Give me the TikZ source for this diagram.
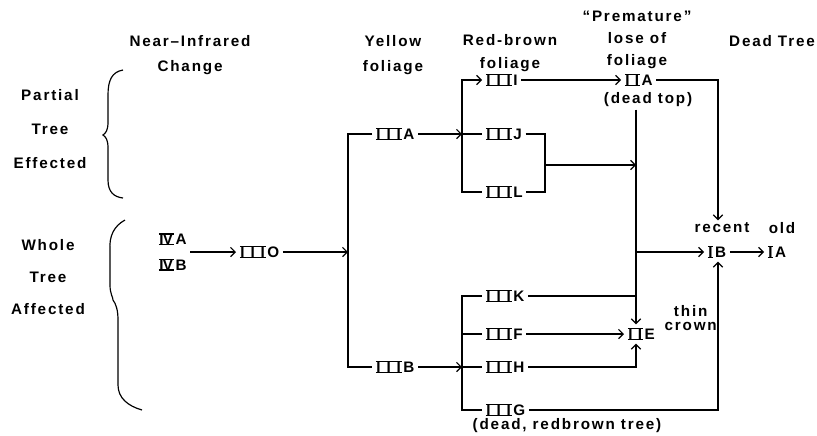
\documentclass[tikz,border=0pt]{standalone}
\usepackage{fontspec}
\setmainfont{Liberation Sans}[LetterSpace=12]
\usetikzlibrary{arrows.meta,positioning}

% roman numeral with bars above and below
\newcommand{\rnbox}[1]{\setbox0\hbox{\addfontfeature{LetterSpace=0}\kern0.6pt#1\kern0.6pt}%
  \leavevmode\rlap{\rule[-0.6pt]{\wd0}{1.2pt}}%
  \rlap{\rule[\dimexpr\ht0-0.6pt\relax]{\wd0}{1.2pt}}\box0\kern1.5pt}
\newcommand{\rnI}{\rnbox{I}}
\newcommand{\rnII}{\rnbox{I\kern4.5pt I}}
\newcommand{\rnIII}{\rnbox{I\kern5pt I\kern5pt I}}
\newcommand{\rnIV}{\rnbox{I\kern-0.6pt V}}
\newcommand{\lsz}[1]{\fontsize{13}{#1}\selectfont\bfseries}

\tikzset{
  stage/.style={align=center, inner sep=2pt},
  sym/.style={font=\lsz{14}, inner sep=3pt, anchor=west},
  flow/.style={line width=1pt, -{Straight Barb[length=4pt,width=8pt]}},
  link/.style={line width=1pt},
  brace/.style={line width=1pt},
}

\begin{document}
\begin{tikzpicture}[x=0.03cm, y=-0.03cm]
  \useasboundingbox (0,0) rectangle (817,435);

  % column headings
  \node[stage, font=\lsz{22}] (hNIR) at (190,55) {Near--Infrared\\Change};
  \node[stage, font=\lsz{21}] (hYel) at (393,55) {Yellow\\foliage};
  \node[stage, font=\lsz{19}] (hRed) at (510,53) {Red-brown\\foliage};
  \node[stage, font=\lsz{19}] (hPre) at (637,40) {``Premature''\\lose of\\foliage};
  \node[stage, font=\lsz{14}] (hDead) at (772,41) {Dead Tree};

  % side labels
  \node[stage, font=\lsz{29}] (sPart) at (50,129) {Partial\\Tree\\Effected};
  \node[stage, font=\lsz{27}] (sWhole) at (48,277) {Whole\\Tree\\Affected};

  % braces
  \draw[brace] (123,70) .. controls (112,72) and (108,80) .. (108,95) -- (108,122)
    .. controls (108,130) and (106,133) .. (103,135)
    .. controls (106,137) and (108,140) .. (108,148) -- (108,180)
    .. controls (108,192) and (114,197) .. (123,198);
  \draw[brace] (125,220) .. controls (114,226) and (109,236) .. (110,250) -- (110,285)
    .. controls (110,294) and (113,297) .. (113,300)
    .. controls (116,304) and (118,310) .. (118,320) -- (118,385)
    .. controls (118,398) and (128,406) .. (142,410);

  % stages
  \node[sym, align=left, font=\lsz{22}] (nIV) at (155,252) {\rnIV A\\\rnIV B};
  \node[sym] (nIIIO) at (236,252) {\rnIII O};
  \node[sym] (nIIIA) at (372,134) {\rnIII A};
  \node[sym] (nIIIB) at (372,367) {\rnIII B};
  \node[sym] (nIIII) at (482,80) {\rnIII I};
  \node[sym] (nIIIJ) at (482,134) {\rnIII J};
  \node[sym] (nIIIL) at (482,192) {\rnIII L};
  \node[sym] (nIIIK) at (482,296) {\rnIII K};
  \node[sym] (nIIIF) at (482,334) {\rnIII F};
  \node[sym] (nIIIH) at (482,367) {\rnIII H};
  \node[sym] (nIIIG) at (482,410) {\rnIII G};
  \node[sym] (nIIA) at (621,80) {\rnII A};
  \node[sym] (nIIE) at (624,334) {\rnII E};
  \node[sym] (nIB) at (704,252) {\rnI B};
  \node[sym] (nIA) at (764,252) {\rnI A};

  % notes
  \node[stage, font=\lsz{14}] (nDeadTop) at (648,100) {(dead top)};
  \node[stage, font=\lsz{14}] (nDeadRed) at (567,426) {(dead, redbrown tree)};
  \node[stage, font=\lsz{12}, anchor=west] (nThin) at (662,318) {thin\\crown};
  \node[stage, font=\lsz{14}] (nRecent) at (722,228) {recent};
  \node[stage, font=\lsz{14}] (nOld) at (782,228) {old};

  % junctions
  \coordinate (b1) at (348,252);
  \coordinate (b2) at (462,134);
  \coordinate (b4) at (462,367);
  \coordinate (m1) at (545,165);
  \coordinate (v3) at (636,165);
  \coordinate (v5) at (718,165);

  % connectors
  \draw[flow] (nIV.east) -- (nIIIO.west);
  \draw[flow] (nIIIO.east) -- (b1);
  \draw[link] (nIIIA.west) -| (b1) |- (nIIIB.west);

  \draw[flow] (nIIIA.east) -- (nIIIA.east -| b2);
  \draw[flow] (b2) |- (nIIII.west);
  \draw[link] (b2) -- (nIIIJ.west);
  \draw[link] (b2) |- (nIIIL.west);

  \draw[flow] (nIIIB.east) -- (nIIIB.east -| b4);
  \draw[link] (nIIIK.west) -| (b4) |- (nIIIG.west);
  \draw[link] (b4) -- (nIIIH.west);
  \draw[link] (b4 |- nIIIF) -- (nIIIF.west);

  \draw[flow] (nIIII.east) -- (nIIA.west);
  \draw[flow] (nIIA.east) -| (nRecent.north -| v5);

  \draw[link] (nIIIJ.east) -| (m1) |- (nIIIL.east);
  \draw[flow] (m1) -- (v3);
  \draw[flow] (nDeadTop.south -| v3) -- (nIIE.north -| v3);
  \draw[link] (nIIIK.east) -- (nIIIK -| v3);
  \draw[flow] (v3 |- nIB) -- (nIB.west);

  \draw[flow] (nIIIF.east) -- (nIIE.west);
  \draw[flow] (nIIIH.east) -| (nIIE.south -| v3);
  \draw[flow] (nIIIG.east) -| (nIB.south -| v5);
  \draw[flow] (nIB.east) -- (nIA.west);
\end{tikzpicture}
\end{document}
